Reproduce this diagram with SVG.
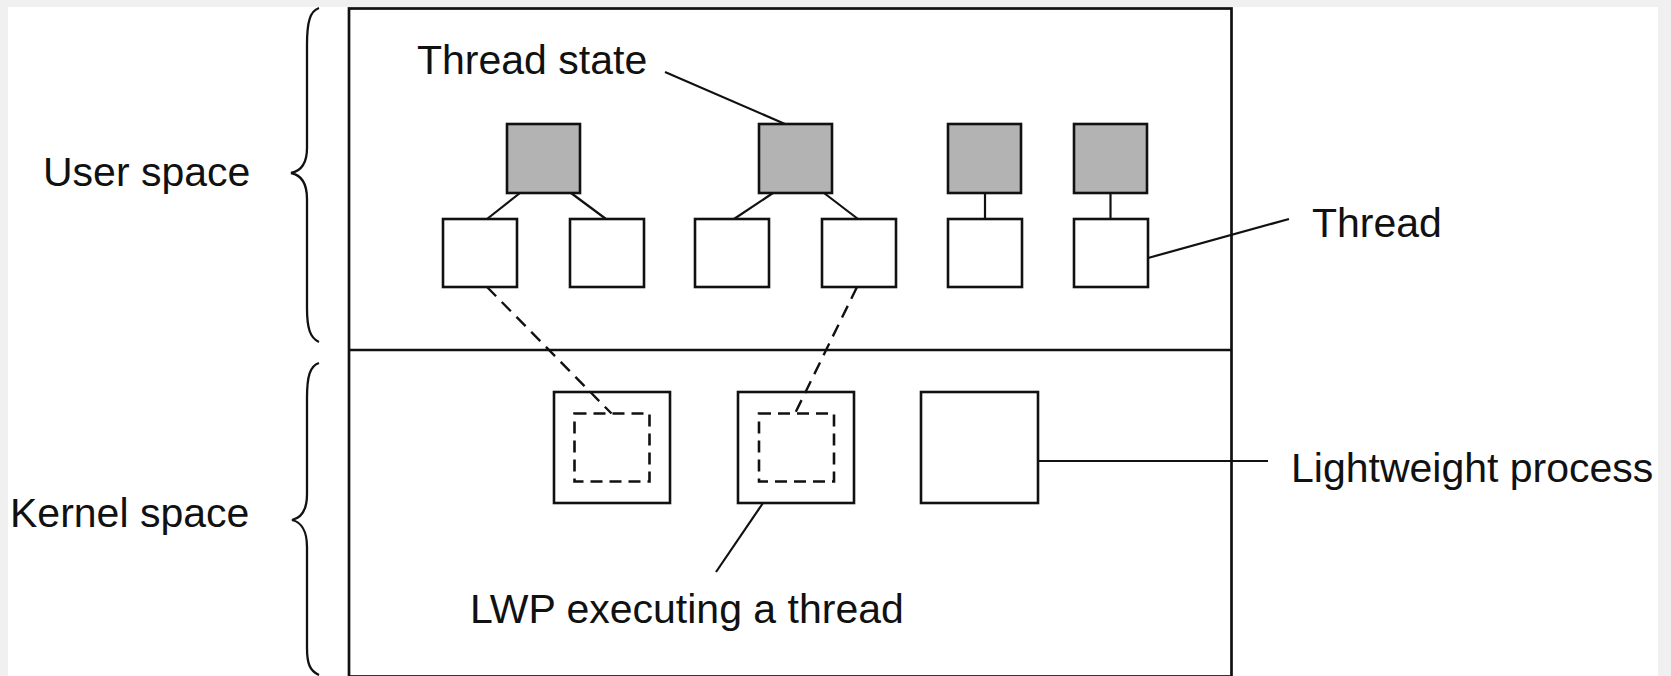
<svg xmlns="http://www.w3.org/2000/svg" width="1671" height="676" viewBox="0 0 1671 676">
<style>
text{font-family:"Liberation Sans",Arial,sans-serif;font-size:41px;fill:#111}
.box{fill:#fff;stroke:#111;stroke-width:2.6}
.state{fill:#b3b3b3;stroke:#111;stroke-width:2.6}
.dbox{fill:none;stroke:#111;stroke-width:2.6;stroke-dasharray:12 7}
.ln{fill:none;stroke:#111;stroke-width:2.2}
.dl{fill:none;stroke:#111;stroke-width:2.4;stroke-dasharray:13 8}
.brace{fill:none;stroke:#111;stroke-width:2.3}
</style>
<rect x="0" y="0" width="1671" height="676" fill="#f0f0f0"/>
<rect x="8" y="7" width="1650" height="669" fill="#fff"/>
<g id="frame">
<rect x="349" y="8.5" width="882.5" height="668" fill="#fff" stroke="#111" stroke-width="2.7"/>
<line x1="349" y1="350" x2="1231.5" y2="350" stroke="#111" stroke-width="2.3"/>
</g>
<g id="braces">
<path class="brace" d="M319,8 C310,11 307,22 307,45 L307,148 C307,164 301,171 291,173 C301,175 307,183 307,199 L307,308 C307,328 310,338 319,342"/>
<path class="brace" d="M319,363 C310,366 307,376 307,398 L307,494 C307,510 301,518 292,520 C301,522 307,531 307,547 L307,648 C307,664 310,671 319,675"/>
</g>
<g id="label-user"><text x="43" y="186">User space</text></g>
<g id="label-kernel"><text x="10" y="527">Kernel space</text></g>
<g id="label-thread-state"><text x="417" y="74">Thread state</text></g>
<g id="label-thread"><text x="1312" y="237">Thread</text></g>
<g id="label-lwp"><text x="1291" y="482">Lightweight process</text></g>
<g id="label-lwp-exec"><text x="470" y="623">LWP executing a thread</text></g>
<g id="state1"><rect class="state" x="507" y="124" width="73" height="69"/></g>
<g id="state2"><rect class="state" x="759" y="124" width="73" height="69"/></g>
<g id="state3"><rect class="state" x="948" y="124" width="73" height="69"/></g>
<g id="state4"><rect class="state" x="1074" y="124" width="73" height="69"/></g>
<g id="thread1"><rect class="box" x="443" y="219" width="74" height="68"/></g>
<g id="thread2"><rect class="box" x="570" y="219" width="74" height="68"/></g>
<g id="thread3"><rect class="box" x="695" y="219" width="74" height="68"/></g>
<g id="thread4"><rect class="box" x="822" y="219" width="74" height="68"/></g>
<g id="thread5"><rect class="box" x="948" y="219" width="74" height="68"/></g>
<g id="thread6"><rect class="box" x="1074" y="219" width="74" height="68"/></g>
<g id="lwp1"><rect class="box" x="554" y="392" width="116" height="111"/><rect class="dbox" x="574.5" y="413.5" width="75" height="68"/></g>
<g id="lwp2"><rect class="box" x="738" y="392" width="116" height="111"/><rect class="dbox" x="759" y="413.5" width="75" height="68"/></g>
<g id="lwp3"><rect class="box" x="921" y="392" width="117" height="111"/></g>
<g id="connectors">
<line class="ln" x1="520" y1="193" x2="487" y2="219"/>
<line class="ln" x1="571" y1="193" x2="606" y2="219"/>
<line class="ln" x1="773" y1="193" x2="734" y2="219"/>
<line class="ln" x1="824" y1="193" x2="858" y2="219"/>
<line class="ln" x1="985" y1="193" x2="985" y2="219"/>
<line class="ln" x1="1110.5" y1="193" x2="1110.5" y2="219"/>
<line class="ln" x1="665" y1="72" x2="785" y2="124"/>
<line class="ln" x1="1148" y1="258" x2="1289" y2="219"/>
<line class="ln" x1="1038" y1="461" x2="1268" y2="461"/>
<line class="ln" x1="763" y1="503" x2="716" y2="572"/>
<line class="dl" x1="487" y1="287" x2="611.5" y2="413.5"/>
<line class="dl" x1="857" y1="287" x2="795" y2="413.5"/>
</g>
</svg>
